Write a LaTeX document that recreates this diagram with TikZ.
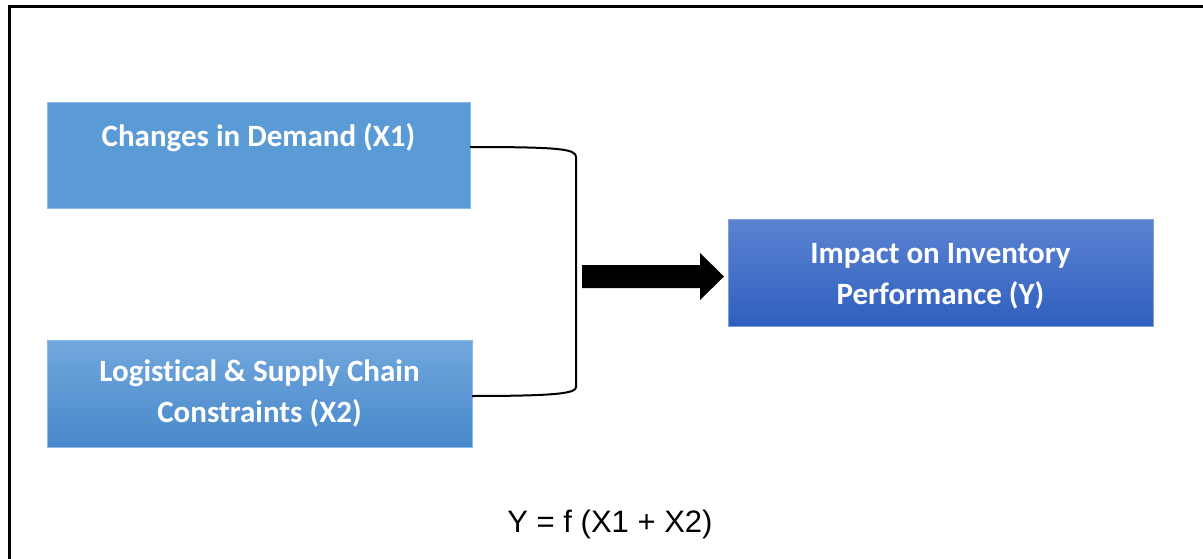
\documentclass[tikz,border=0pt]{standalone}
\usepackage{fontspec}
\setmainfont[Ligatures=NoCommon]{Carlito}
\newfontfamily\formulafont{Liberation Sans}
\definecolor{boxA}{HTML}{5B9BD5}
\definecolor{boxAedge}{HTML}{8DB9E6}
\definecolor{boxBtop}{HTML}{71A7DD}
\definecolor{boxBbot}{HTML}{4888CA}
\definecolor{boxCtop}{HTML}{5B83D2}
\definecolor{boxCbot}{HTML}{2F5FBE}
\definecolor{boxCedge}{HTML}{7F9FE0}
\tikzset{
  factorbox/.style={rectangle, inner sep=0pt, outer sep=0pt, align=center,
    text=white, font=\fontsize{31}{41}\selectfont\bfseries},
  connector/.style={line width=2pt, draw=black},
}
\begin{document}
\begin{tikzpicture}[x=1pt,y=-1pt]
\useasboundingbox (0,0) rectangle (1203,559);
\fill[white] (0,0) rectangle (1203,559);
\draw[line width=2.5pt] (9.5,6.5) rectangle (1215,575);

\node[factorbox, fill=boxA, draw=boxAedge, line width=0.8pt,
  minimum width=423pt, minimum height=106pt] (b1) at (258.5,155)
  {Changes in Demand (X1)\\\mbox{}};
\node[factorbox, top color=boxBtop, bottom color=boxBbot, draw=boxAedge, line width=0.8pt,
  minimum width=425pt, minimum height=107pt] (b2) at (259.5,393.5)
  {Logistical \& Supply Chain\\Constraints (X2)};
\node[factorbox, top color=boxCtop, bottom color=boxCbot, draw=boxCedge, line width=0.8pt,
  minimum width=425pt, minimum height=107pt, text depth=0pt] (b3) at (940.5,272.5)
  {\raisebox{-3pt}{Impact on Inventory}\\\raisebox{-3pt}{Performance (Y)}};

\coordinate (t1) at ([yshift=8pt]b1.east);
\coordinate (t2) at ([yshift=-2.5pt]b2.east);
\draw[connector] (t1) .. controls (560,147) and (576,149) .. (576,157)
  -- (576,387) .. controls (576,393) and (560,396) .. (t2);

\fill[black] (582,265) -- (700,265) -- (700,253) -- (724,276.5) -- (700,300)
  -- (700,288) -- (582,288) -- cycle;

\node[font=\formulafont\fontsize{31}{36}\selectfont, inner sep=0pt] (f) at (610,524)
  {Y = f (X1 + X2)};
\end{tikzpicture}
\end{document}
